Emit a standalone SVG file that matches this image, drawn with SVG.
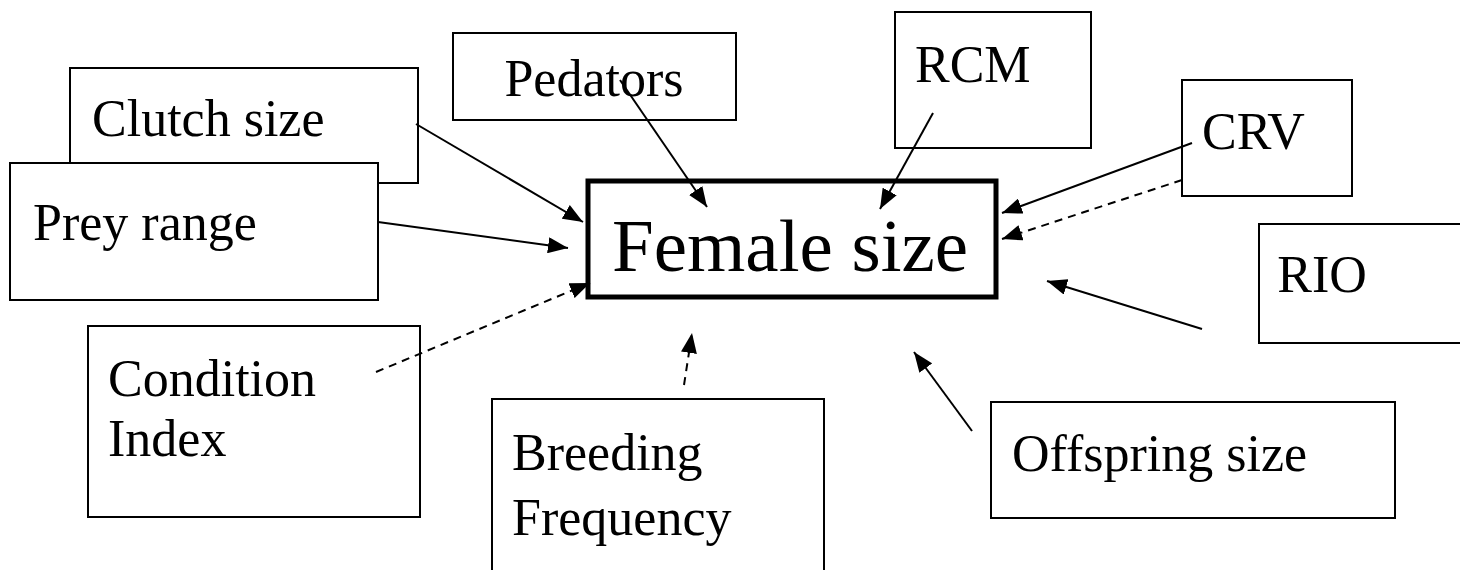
<svg xmlns="http://www.w3.org/2000/svg" width="1460" height="570" viewBox="0 0 1460 570">
<style>
.box{fill:#fff;stroke:#000;stroke-width:2}
.main{fill:#fff;stroke:#000;stroke-width:5}
text{font-family:"Liberation Serif","Times New Roman","DejaVu Serif",serif;fill:#000}
.t{font-size:52px}
.tm{font-size:75px}
.c{stroke:#000;stroke-width:2;fill:none}
.d{stroke-dasharray:8,6}
</style>
<defs>
<marker id="ah" viewBox="0 0 20 16" refX="20" refY="8" markerWidth="20" markerHeight="16" markerUnits="userSpaceOnUse" orient="auto">
<path d="M0,0 L20,8 L0,16 z" fill="#000"/>
</marker>
</defs>
<g id="n-clutch"><rect class="box" x="70" y="68" width="348" height="115"/><text class="t" font-family="Liberation Serif" x="92" y="136">Clutch size</text></g>
<g id="n-prey"><rect class="box" x="10" y="163" width="368" height="137"/><text class="t" font-family="Liberation Serif" x="33" y="240">Prey range</text></g>
<g id="n-pedators"><rect class="box" x="453" y="33" width="283" height="87"/><text class="t" font-family="Liberation Serif" x="594" y="96" text-anchor="middle">Pedators</text></g>
<g id="n-rcm"><rect class="box" x="895" y="12" width="196" height="136"/><text class="t" font-family="Liberation Serif" x="915" y="82">RCM</text></g>
<g id="n-crv"><rect class="box" x="1182" y="80" width="170" height="116"/><text class="t" font-family="Liberation Serif" x="1202" y="149">CRV</text></g>
<g id="n-rio"><rect class="box" x="1259" y="224" width="210" height="119"/><text class="t" font-family="Liberation Serif" x="1322" y="292" text-anchor="middle">RIO</text></g>
<g id="n-female"><rect class="main" x="588" y="181" width="408" height="116"/><text class="tm" font-family="Liberation Serif" x="612" y="271">Female size</text></g>
<g id="n-condition"><rect class="box" x="88" y="326" width="332" height="191"/><text class="t" font-family="Liberation Serif" x="108" y="396">Condition</text><text class="t" font-family="Liberation Serif" x="108" y="456">Index</text></g>
<g id="n-breeding"><rect class="box" x="492" y="399" width="332" height="190"/><text class="t" font-family="Liberation Serif" x="512" y="470">Breeding</text><text class="t" font-family="Liberation Serif" x="512" y="535">Frequency</text></g>
<g id="n-offspring"><rect class="box" x="991" y="402" width="404" height="116"/><text class="t" font-family="Liberation Serif" x="1012" y="471">Offspring size</text></g>
<g id="connectors">
<line class="c" x1="416" y1="124" x2="583" y2="222" marker-end="url(#ah)"/>
<line class="c" x1="378" y1="222" x2="568" y2="248" marker-end="url(#ah)"/>
<line class="c d" x1="376" y1="372" x2="590" y2="283" marker-end="url(#ah)"/>
<line class="c" x1="620" y1="80" x2="707" y2="207" marker-end="url(#ah)"/>
<line class="c" x1="933" y1="113" x2="880" y2="209" marker-end="url(#ah)"/>
<line class="c" x1="1192" y1="143" x2="1002" y2="213" marker-end="url(#ah)"/>
<line class="c d" x1="1182" y1="180" x2="1002" y2="239" marker-end="url(#ah)"/>
<line class="c" x1="1202" y1="329" x2="1047" y2="281" marker-end="url(#ah)"/>
<line class="c" x1="972" y1="431" x2="914" y2="352" marker-end="url(#ah)"/>
<line class="c d" x1="684" y1="385" x2="692" y2="333" marker-end="url(#ah)"/>
</g>
</svg>
